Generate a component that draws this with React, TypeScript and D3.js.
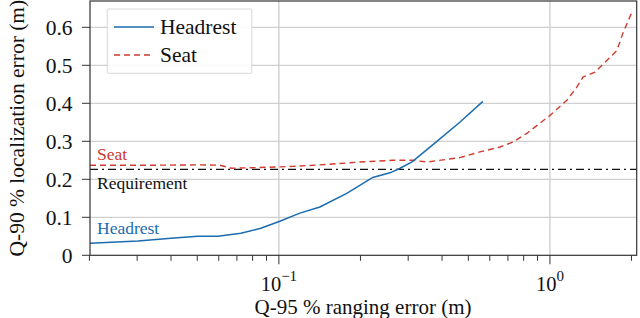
import React from "react";
import * as d3 from "d3";

const headrestX = [0.0201, 0.0302, 0.04, 0.0502, 0.0596, 0.0724, 0.0858, 0.1008, 0.1195, 0.1417, 0.178, 0.222, 0.257, 0.28, 0.31, 0.376, 0.465, 0.566];
const headrestY = [0.0316, 0.0376, 0.0447, 0.05, 0.05, 0.058, 0.071, 0.0895, 0.111, 0.127, 0.163, 0.205, 0.217, 0.229, 0.246, 0.295, 0.35, 0.405];

const seatX = [0.0201, 0.0334, 0.0511, 0.0606, 0.067, 0.085, 0.1126, 0.15, 0.199, 0.2635, 0.312, 0.352, 0.465, 0.552, 0.654, 0.73, 0.822, 1.0, 1.155, 1.258, 1.324, 1.466, 1.766, 1.858, 2.007];
const seatY = [0.237, 0.237, 0.238, 0.237, 0.229, 0.231, 0.234, 0.239, 0.2455, 0.25, 0.25, 0.2455, 0.257, 0.272, 0.285, 0.298, 0.321, 0.368, 0.408, 0.443, 0.469, 0.482, 0.539, 0.584, 0.64];

const requirement = 0.226;
const yTicks = [0, 0.1, 0.2, 0.3, 0.4, 0.5, 0.6];
const yTickLabels = ["0", "0.1", "0.2", "0.3", "0.4", "0.5", "0.6"];
const xMajor = [0.1, 1];
const xMajorExp = ["\u22121", "0"];
const xMinor = [0.02, 0.03, 0.04, 0.05, 0.06, 0.07, 0.08, 0.09, 0.2, 0.3, 0.4, 0.5, 0.6, 0.7, 0.8, 0.9, 2];

const BLUE = "#1b6cae";
const RED = "#cf3b2e";
const FONT = "Liberation Serif, Times New Roman, DejaVu Serif, serif";
const FS = 21.5;

export default function App() {
  const W = 640, H = 318;
  const left = 90, right = 636.7, top = 1, bottom = 255.3;
  const x = d3.scaleLog().domain([0.0201, 2.09]).range([left, right]);
  const y = d3.scaleLinear().domain([0, (bottom - top) / 380]).range([bottom, top]);
  const line = d3.line<[number, number]>().x(d => x(d[0])).y(d => y(d[1]));
  const hd = line(headrestX.map((v, i) => [v, headrestY[i]] as [number, number])) || "";
  const sd = line(seatX.map((v, i) => [v, seatY[i]] as [number, number])) || "";

  return (
    <svg width={W} height={H} style={{ position: "absolute", left: 0, top: 0 }}>
      <rect width={W} height={H} fill="#fff" />
      <g fontFamily={FONT}>
        {yTicks.map((t, i) => (
          <g key={"y" + i}>
            {t > 0 && <line x1={left} x2={right} y1={y(t)} y2={y(t)} stroke="#d0d0d0" strokeWidth={1.2} />}
            <line x1={left - 8} x2={left} y1={y(t)} y2={y(t)} stroke="#333" strokeWidth={1} />
            <text x={72.5} y={y(t)} dy="0.34em" textAnchor="end" fontSize={FS} fill="#111">{yTickLabels[i]}</text>
          </g>
        ))}
        {xMajor.map((t, i) => (
          <g key={"xm" + i}>
            <line x1={x(t)} x2={x(t)} y1={top} y2={bottom} stroke="#d0d0d0" strokeWidth={1.4} />
            <line x1={x(t)} x2={x(t)} y1={bottom} y2={bottom + 9} stroke="#333" strokeWidth={1} />
            <text x={x(t)} y={291} textAnchor="middle" fontSize={20.5} fill="#111">
              10<tspan dy={-10} fontSize={15}>{xMajorExp[i]}</tspan>
            </text>
          </g>
        ))}
        {xMinor.map((t, i) => (
          <line key={"xn" + i} x1={x(t)} x2={x(t)} y1={bottom} y2={bottom + 5.5} stroke="#333" strokeWidth={1} />
        ))}
        <line x1={left} x2={right} y1={y(requirement)} y2={y(requirement)} stroke="#111" strokeWidth={1.3} strokeDasharray="8,4,2,4" />
        <path d={sd} fill="none" stroke={RED} strokeWidth={1.4} strokeDasharray="6,4" />
        <path d={hd} fill="none" stroke={BLUE} strokeWidth={1.5} />
        <rect x={left} y={top} width={right - left} height={bottom - top} fill="none" stroke="#333" strokeWidth={1.2} />
        <text x={97} y={160} fontSize={17.5} fill={RED}>Seat</text>
        <text x={97} y={188.5} fontSize={17.5} fill="#111">Requirement</text>
        <text x={97} y={233.5} fontSize={17.5} fill={BLUE}>Headrest</text>
        <g>
          <rect x={107.3} y={9} width={144.5} height={64.3} fill="#fff" fillOpacity={0.85} stroke="#d8d8d8" strokeWidth={1} rx={1} />
          <line x1={114} x2={154} y1={27} y2={27} stroke={BLUE} strokeWidth={1.5} />
          <text x={160} y={33.5} fontSize={FS} fill="#111">Headrest</text>
          <line x1={114} x2={154} y1={55} y2={55} stroke={RED} strokeWidth={1.4} strokeDasharray="6,4" />
          <text x={160} y={61.5} fontSize={FS} fill="#111">Seat</text>
        </g>
        <text x={363} y={314} textAnchor="middle" fontSize={21} fill="#111">Q-95 % ranging error (m)</text>
        <text transform={`translate(23.5,${(top + bottom) / 2}) rotate(-90)`} textAnchor="middle" fontSize={FS} fill="#111">Q-90 % localization error (m)</text>
      </g>
    </svg>
  );
}
